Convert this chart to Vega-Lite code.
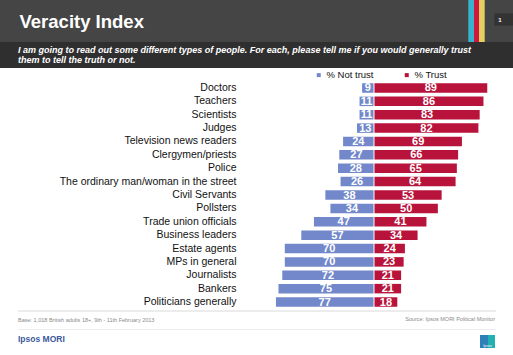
{
  "$schema": "https://vega.github.io/schema/vega-lite/v6.json",
  "width": 513,
  "height": 355,
  "padding": 0,
  "autosize": {"type": "none"},
  "background": "white",
  "config": {"view": {"stroke": null}, "font": "Liberation Sans"},
  "layer": [
    {
      "data": {"values": [{}]},
      "mark": {"type": "rect", "color": "#454545"},
      "encoding": {"x": {"value": 0}, "x2": {"value": 513}, "y": {"value": 0}, "y2": {"value": 42}}
    },
    {
      "data": {"values": [{}]},
      "mark": {"type": "rect", "color": "#2f2f2f"},
      "encoding": {"x": {"value": 0}, "x2": {"value": 513}, "y": {"value": 42}, "y2": {"value": 68}}
    },
    {
      "data": {"values": [{}]},
      "mark": {"type": "rect", "color": "#37b3d0"},
      "encoding": {"x": {"value": 468.3}, "x2": {"value": 474}, "y": {"value": 0}, "y2": {"value": 42}}
    },
    {
      "data": {"values": [{}]},
      "mark": {"type": "rect", "color": "#d0183c"},
      "encoding": {"x": {"value": 474}, "x2": {"value": 479}, "y": {"value": 0}, "y2": {"value": 42}}
    },
    {
      "data": {"values": [{}]},
      "mark": {"type": "rect", "color": "#e3d060"},
      "encoding": {"x": {"value": 479}, "x2": {"value": 484.7}, "y": {"value": 0}, "y2": {"value": 42}}
    },
    {
      "data": {"values": [{}]},
      "mark": {"type": "rect", "color": "#333333"},
      "encoding": {"x": {"value": 494.3}, "x2": {"value": 513}, "y": {"value": 13.3}, "y2": {"value": 25.7}}
    },
    {
      "data": {"values": [{}]},
      "mark": {"type": "text", "color": "white", "fontSize": 6, "fontWeight": "bold", "align": "center", "baseline": "middle"},
      "encoding": {"x": {"value": 500}, "y": {"value": 19.5}, "text": {"value": "1"}}
    },
    {
      "data": {"values": [{}]},
      "mark": {"type": "text", "color": "white", "fontSize": 18.5, "fontWeight": "bold", "align": "left", "baseline": "alphabetic", "font": "Liberation Sans"},
      "encoding": {"x": {"value": 19.5}, "y": {"value": 27.5}, "text": {"value": "Veracity Index"}}
    },
    {
      "data": {"values": [{}]},
      "mark": {"type": "text", "color": "white", "fontSize": 9, "fontWeight": "bold", "fontStyle": "italic", "align": "left", "baseline": "alphabetic", "lineHeight": 10.5},
      "encoding": {"x": {"value": 18}, "y": {"value": 52.5}, "text": {"value": ["I am going to read out some different types of people. For each, please tell me if you would generally trust", "them to tell the truth or not."]}}
    },
    {
      "data": {"values": [{}]},
      "mark": {"type": "rule", "color": "#d9d9d9", "strokeWidth": 1},
      "encoding": {"x": {"value": 18}, "x2": {"value": 496}, "y": {"value": 311}}
    },
    {
      "data": {"values": [{}]},
      "mark": {"type": "rule", "color": "#ececec", "strokeWidth": 1},
      "encoding": {"x": {"value": 18}, "x2": {"value": 496}, "y": {"value": 329.5}}
    },
    {
      "data": {"values": [{}]},
      "mark": {"type": "text", "color": "#8a8a8a", "fontSize": 5.5, "align": "left", "baseline": "alphabetic"},
      "encoding": {"x": {"value": 18}, "y": {"value": 322}, "text": {"value": "Base: 1,018 British adults 18+, 9th - 11th February 2013"}}
    },
    {
      "data": {"values": [{}]},
      "mark": {"type": "text", "color": "#8a8a8a", "fontSize": 5.5, "align": "right", "baseline": "alphabetic"},
      "encoding": {"x": {"value": 495}, "y": {"value": 321}, "text": {"value": "Source: Ipsos MORI Political Monitor"}}
    },
    {
      "data": {"values": [{}]},
      "mark": {"type": "text", "color": "#3d5a9c", "fontSize": 8.5, "fontWeight": "bold", "align": "left", "baseline": "alphabetic"},
      "encoding": {"x": {"value": 18}, "y": {"value": 342}, "text": {"value": "Ipsos MORI"}}
    },
    {
      "data": {"values": [{}]},
      "mark": {"type": "rect", "color": "#2f7fb8"},
      "encoding": {"x": {"value": 480}, "x2": {"value": 495}, "y": {"value": 335}, "y2": {"value": 348}}
    },
    {
      "data": {"values": [{}]},
      "mark": {"type": "rect", "color": "#23b0b0"},
      "encoding": {"x": {"value": 488}, "x2": {"value": 495}, "y": {"value": 335}, "y2": {"value": 348}}
    },
    {
      "data": {"values": [{}]},
      "mark": {"type": "text", "color": "white", "fontSize": 3.5, "align": "center", "baseline": "alphabetic"},
      "encoding": {"x": {"value": 487.5}, "y": {"value": 346.5}, "text": {"value": "Ipsos"}}
    },
    {
      "data": {"name": "trust"},
      "layer": [
        {
          "mark": {"type": "bar"},
          "encoding": {
            "y": {"field": "group", "type": "nominal", "sort": null,
              "scale": {"range": [81.3, 308.7], "paddingInner": 0.29, "paddingOuter": 0.145},
              "axis": {"orient": "left", "offset": -236, "domain": false, "ticks": false, "tickSize": 0, "labelPadding": 0, "title": null, "labelFontSize": 10.5, "labelColor": "#111111", "labelFont": "Liberation Sans", "labelLimit": 300}},
            "x": {"field": "nottrust", "type": "quantitative", "scale": {"domain": [0, 100], "range": [373.5, 246.8]}, "axis": null},
            "color": {"datum": "% Not trust", "type": "nominal",
              "scale": {"domain": ["% Not trust", "% Trust"], "range": ["#7288ca", "#b8133a"]},
              "legend": {"orient": "none", "legendX": 314, "legendY": 70, "direction": "horizontal", "title": null, "symbolType": "square", "symbolSize": 16, "symbolStrokeWidth": 0, "labelFontSize": 9.5, "labelColor": "#111111", "labelFont": "Liberation Sans", "columnPadding": 28, "labelOffset": 3}}
          }
        },
        {
          "mark": {"type": "bar"},
          "encoding": {
            "y": {"field": "group", "type": "nominal", "sort": null},
            "x": {"field": "trust", "type": "quantitative", "scale": {"domain": [0, 100], "range": [374.5, 501.2]}, "axis": null},
            "color": {"datum": "% Trust", "type": "nominal"}
          }
        },
        {
          "mark": {"type": "text", "color": "white", "fontSize": 11, "fontWeight": "bold", "align": "center", "baseline": "middle", "dy": 0.5},
          "encoding": {
            "y": {"field": "group", "type": "nominal", "sort": null},
            "x": {"field": "nottrust", "type": "quantitative", "scale": {"domain": [0, 100], "range": [373.5, 310.15]}, "axis": null},
            "text": {"field": "nottrust", "type": "quantitative"}
          }
        },
        {
          "mark": {"type": "text", "color": "white", "fontSize": 11, "fontWeight": "bold", "align": "center", "baseline": "middle", "dy": 0.5},
          "encoding": {
            "y": {"field": "group", "type": "nominal", "sort": null},
            "x": {"field": "trust", "type": "quantitative", "scale": {"domain": [0, 100], "range": [374.5, 437.85]}, "axis": null},
            "text": {"field": "trust", "type": "quantitative"}
          }
        }
      ],
      "resolve": {"scale": {"x": "independent"}}
    }
  ],
  "datasets": {
    "trust": [
      {"group": "Doctors", "nottrust": 9, "trust": 89},
      {"group": "Teachers", "nottrust": 11, "trust": 86},
      {"group": "Scientists", "nottrust": 11, "trust": 83},
      {"group": "Judges", "nottrust": 13, "trust": 82},
      {"group": "Television news readers", "nottrust": 24, "trust": 69},
      {"group": "Clergymen/priests", "nottrust": 27, "trust": 66},
      {"group": "Police", "nottrust": 28, "trust": 65},
      {"group": "The ordinary man/woman in the street", "nottrust": 26, "trust": 64},
      {"group": "Civil Servants", "nottrust": 38, "trust": 53},
      {"group": "Pollsters\u00a0\u00a0\u00a0", "nottrust": 34, "trust": 50},
      {"group": "Trade union officials", "nottrust": 47, "trust": 41},
      {"group": "Business leaders", "nottrust": 57, "trust": 34},
      {"group": "Estate agents\u00a0", "nottrust": 70, "trust": 24},
      {"group": "MPs in general", "nottrust": 70, "trust": 23},
      {"group": "Journalists", "nottrust": 72, "trust": 21},
      {"group": "Bankers", "nottrust": 75, "trust": 21},
      {"group": "Politicians generally\u00a0\u00a0", "nottrust": 77, "trust": 18}
    ]
  }
}
